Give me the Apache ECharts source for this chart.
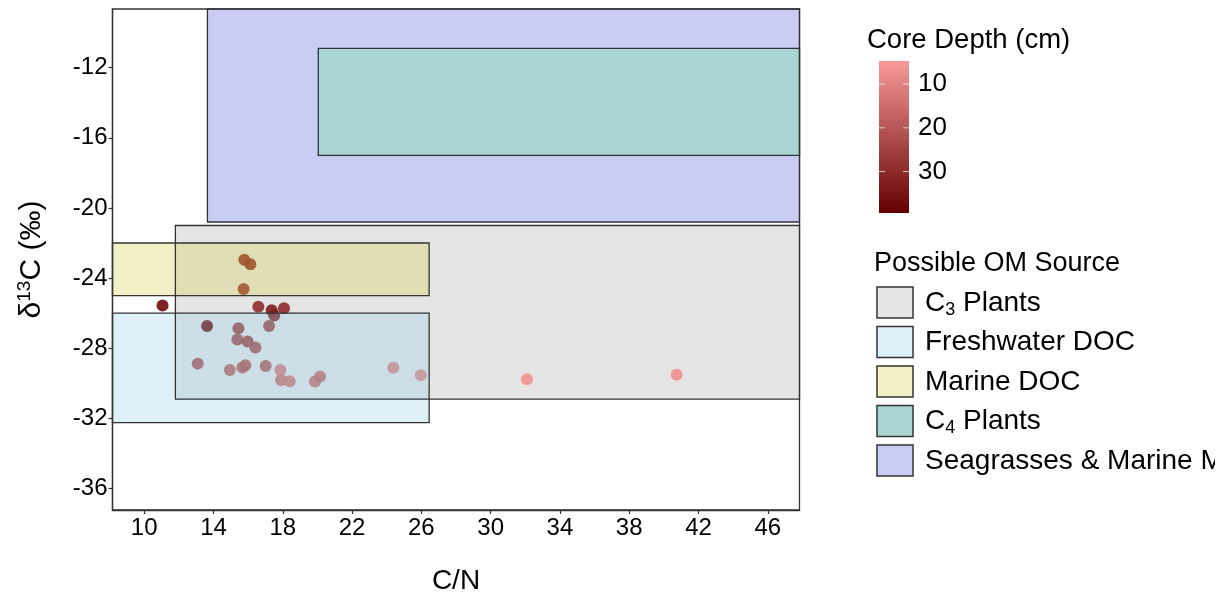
<!DOCTYPE html>
<html><head><meta charset="utf-8">
<script src="https://cdn.jsdelivr.net/npm/echarts@6/dist/echarts.min.js"></script>
<style>html,body{margin:0;padding:0;background:#fff;overflow:hidden}#chart{width:1215px;height:594px}</style>
</head><body><div id="chart"></div>
<script>
// ---- data ----
const xTicks = [10, 14, 18, 22, 26, 30, 34, 38, 42, 46];
const yTicks = [-36, -32, -28, -24, -20, -16, -12];
const cnRatio = [15.78, 16.13, 15.74, 11.06, 16.59, 17.36, 18.07, 17.51, 13.63, 15.44, 17.21, 15.38, 15.97, 16.42,
                 13.09, 14.94, 15.67, 15.84, 17.01, 17.86, 17.90, 18.40, 19.86, 20.15, 24.38, 25.97, 32.09, 40.74];
const d13C = [-22.96, -23.21, -24.62, -25.57, -25.63, -25.83, -25.72, -26.14, -26.73, -26.86, -26.73, -27.51, -27.62, -27.96,
              -28.88, -29.24, -29.10, -28.97, -29.01, -29.24, -29.82, -29.88, -29.90, -29.62, -29.12, -29.54, -29.77, -29.52];
const coreDepth = [31, 32, 30, 37, 29, 33, 30, 34, 39.5, 28, 27, 26, 27, 25,
                   24, 20, 21, 22, 22, 14, 16, 15, 17, 18, 12, 11, 6.5, 7];
const depthTicks = [10, 20, 30];
const depthRange = [4.7, 39.5];
const sourceNames = ['C3 Plants', 'Freshwater DOC', 'Marine DOC', 'C4 Plants', 'Seagrasses & Marine Macroalgae'];
const srcXmin = [11.8, 0, 0, 20.05, 13.65];
const srcXmax = [60, 26.45, 26.45, 60, 60];
const srcYmin = [-30.9, -32.25, -25, -17, -20.8];
const srcYmax = [-21, -26, -22, -10.9, 0];
const belowPoints = [4, 3, 0];
const abovePoints = [1, 2];

// ---- styles ----
const FONT = 'Liberation Sans, Arial, Helvetica, sans-serif';
const srcFill = ['rgba(190,190,190,0.4)', 'rgba(148,208,232,0.3)', 'rgba(215,202,68,0.3)', '#a9d5d5', 'rgba(120,130,225,0.4)'];
const srcKey = ['#e5e5e5', '#dff1f8', '#f3efc7', '#a9d5d5', '#c9cdf3'];
const lowCol = '#f89a9a', highCol = '#650000';

const chart = echarts.init(document.getElementById('chart'), null, {renderer: 'canvas'});

const toRect = idx => idx.map(i => [srcXmin[i], srcYmax[i], srcXmax[i], srcYmin[i], i]);
function rectItem(fill) {
  return function (params, api) {
    const i = api.value(4);
    const p1 = api.coord([api.value(0), api.value(1)]);
    const p2 = api.coord([api.value(2), api.value(3)]);
    const cs = params.coordSys;
    const shape = echarts.graphic.clipRectByRect(
      {x: p1[0], y: p1[1], width: p2[0] - p1[0], height: p2[1] - p1[1]},
      {x: cs.x, y: cs.y, width: cs.width, height: cs.height});
    if (!shape) return;
    return {type: 'rect', shape: shape,
      style: fill ? {fill: srcFill[i], stroke: null} : {fill: null, stroke: '#333', lineWidth: 1.3}};
  };
}

// legend graphics
const graphics = [];
graphics.push({type: 'text', x: 867, y: 40, style: {text: 'Core Depth (cm)', font: '27.5px ' + FONT, fill: '#000', verticalAlign: 'middle'}});
const cbX = 879, cbY = 61, cbW = 30, cbH = 152;
graphics.push({type: 'rect', shape: {x: cbX, y: cbY, width: cbW, height: cbH},
  style: {fill: new echarts.graphic.LinearGradient(0, 0, 0, 1, [{offset: 0, color: lowCol}, {offset: 1, color: highCol}])}});
depthTicks.forEach(v => {
  const y = cbY + (v - depthRange[0]) / (depthRange[1] - depthRange[0]) * cbH;
  graphics.push({type: 'line', shape: {x1: cbX, y1: y, x2: cbX + 6, y2: y}, style: {stroke: 'rgba(255,255,255,0.7)', lineWidth: 1}});
  graphics.push({type: 'line', shape: {x1: cbX + cbW - 6, y1: y, x2: cbX + cbW, y2: y}, style: {stroke: 'rgba(255,255,255,0.7)', lineWidth: 1}});
  graphics.push({type: 'text', x: 918, y: y, style: {text: String(v), font: '26px ' + FONT, fill: '#000', verticalAlign: 'middle'}});
});
graphics.push({type: 'text', x: 874, y: 264, style: {text: 'Possible OM Source', font: '27px ' + FONT, fill: '#000', verticalAlign: 'middle'}});
const legendLabels = ['{b|C}{s|3}{b| Plants}', '{b|Freshwater DOC}', '{b|Marine DOC}', '{b|C}{s|4}{b| Plants}', '{b|Seagrasses & Marine Macroalgae}'];
sourceNames.forEach((n, i) => {
  const y0 = 287 + i * 39.5;
  graphics.push({type: 'rect', shape: {x: 877, y: y0, width: 36, height: 31}, style: {fill: srcKey[i], stroke: '#333', lineWidth: 1.5}});
  graphics.push({type: 'text', x: 925, y: y0 + 16, style: {text: legendLabels[i], fill: '#000', verticalAlign: 'middle',
    rich: {b: {fontSize: 28, fontFamily: FONT, color: '#000', lineHeight: 32}, s: {fontSize: 18, fontFamily: FONT, color: '#000', lineHeight: 24, verticalAlign: 'bottom'}}}});
});

const axisCommon = {
  type: 'value',
  axisLine: {show: true, onZero: false, lineStyle: {color: '#333', width: 1.3}},
  splitLine: {show: false},
  nameLocation: 'middle',
};

chart.setOption({
  animation: false,
  backgroundColor: '#fff',
  grid: {left: 112.5, top: 9, width: 687, height: 501, show: true, borderColor: '#333', borderWidth: 1.3,
    backgroundColor: '#fff', containLabel: false, outerBoundsMode: 'none'},
  xAxis: Object.assign({}, axisCommon, {
    min: 8.17, max: 47.83,
    axisTick: {show: true, length: 4, customValues: xTicks, lineStyle: {color: '#333', width: 1.2}},
    axisLabel: {customValues: xTicks, fontSize: 24, fontFamily: FONT, color: '#000', margin: 6},
    name: 'C/N', nameGap: 57, nameTextStyle: {fontSize: 28, fontFamily: FONT, color: '#000'}
  }),
  yAxis: Object.assign({}, axisCommon, {
    min: -37.23, max: -8.65,
    axisTick: {show: true, length: 4, customValues: yTicks, lineStyle: {color: '#333', width: 1.2}},
    axisLabel: {customValues: yTicks, fontSize: 24, fontFamily: FONT, color: '#000', margin: 5},
    name: '{a|δ}{s|13}{a|C (‰)}', nameGap: 64,
    nameTextStyle: {color: '#000', rich: {
      a: {fontSize: 30, fontFamily: FONT, color: '#000'},
      s: {fontSize: 19, fontFamily: FONT, color: '#000', padding: [0, 0, 14, 0]}
    }}
  }),
  visualMap: {show: false, type: 'continuous', dimension: 2, seriesIndex: 1,
    min: depthRange[0], max: depthRange[1], inRange: {color: [lowCol, highCol]}},
  series: [
    {type: 'custom', renderItem: rectItem(true), data: toRect(belowPoints), encode: {x: [0, 2], y: [1, 3]}, z: 1, silent: true},
    {type: 'scatter', symbolSize: 12, z: 2, itemStyle: {opacity: 0.9},
      data: cnRatio.map((x, i) => [x, d13C[i], coreDepth[i]])},
    {type: 'custom', renderItem: rectItem(true), data: toRect(abovePoints), encode: {x: [0, 2], y: [1, 3]}, z: 3, silent: true},
    {type: 'custom', renderItem: rectItem(false), data: toRect(belowPoints.concat(abovePoints)), encode: {x: [0, 2], y: [1, 3]}, z: 4, silent: true}
  ],
  graphic: graphics
});
</script></body></html>
